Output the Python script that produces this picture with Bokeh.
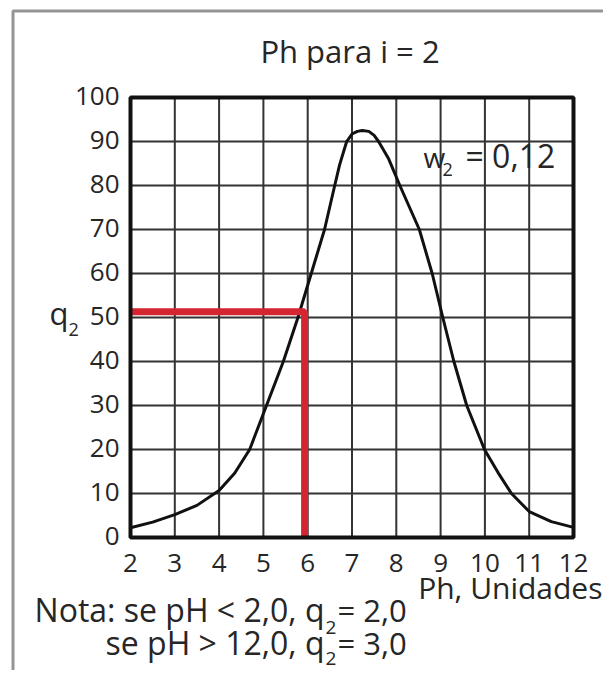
from bokeh.plotting import figure
from bokeh.models import Label, Range1d
from bokeh.embed import file_html
from bokeh.resources import INLINE

# ---- data ----
ph = [2, 2.5, 3, 3.5, 4, 4.35, 4.69, 5.07, 5.45, 5.78, 6.08, 6.38, 6.61, 6.72, 6.88, 7.0,
      7.12, 7.23, 7.38, 7.5, 7.6, 7.83, 8.08, 8.52, 8.81, 9.05, 9.3, 9.59, 9.99, 10.3,
      10.6, 11, 11.5, 12]
q2 = [2.2, 3.5, 5.2, 7.3, 10.7, 14.6, 20, 30, 40, 50, 60, 70, 80, 84.7, 90, 91.7,
      92.3, 92.5, 92.3, 91.4, 90, 86, 80, 70, 60, 50, 40, 30, 20, 14.7,
      10, 5.9, 3.6, 2.3]
x_ticks = [2, 3, 4, 5, 6, 7, 8, 9, 10, 11, 12]
y_ticks = [0, 10, 20, 30, 40, 50, 60, 70, 80, 90, 100]
example_ph = [2, 5.93, 5.93]
example_q = [51.3, 51.3, 0]

title = "Ph para i = 2"
x_title = "Ph, Unidades"
note1 = ("Nota: se pH < 2,0, q", "2", "= 2,0")
note2 = ("se pH > 12,0, q", "2", "= 3,0")
weight = ("w", "2", "= 0,12")

# ---- layout (pixel geometry of the chart area) ----
W, H = 603, 670
FX0, FX1 = 130, 573      # pixel x of ph = 2 and ph = 12
FY0, FY1 = 537, 97       # pixel y of q = 0 and q = 100
sx = (FX1 - FX0) / (x_ticks[-1] - x_ticks[0])
sy = (FY0 - FY1) / (y_ticks[-1] - y_ticks[0])
SHIFT = 0.35             # label anchor correction (fraction of font size)

def X(px):
    return x_ticks[0] + (px - FX0) / sx

def Y(py):
    return y_ticks[0] + (FY0 - py) / sy

TXT = "#262626"
FONT = "Open Sans"

p = figure(width=W, height=H, min_border=0, x_axis_type=None, y_axis_type=None,
           x_range=Range1d(X(0), X(W)), y_range=Range1d(Y(H), Y(0)),
           output_backend="svg", toolbar_location=None)
p.outline_line_color = None
p.background_fill_color = "white"
p.border_fill_color = "white"

# outer grey frame of the figure
p.line([X(12.5), X(12.5), X(W + 5)], [Y(H + 5), Y(10.5), Y(10.5)],
       line_color="#959595", line_width=3)

# grid
p.segment(x0=x_ticks, y0=[y_ticks[0]] * len(x_ticks), x1=x_ticks, y1=[y_ticks[-1]] * len(x_ticks),
          line_color="#333333", line_width=2)
p.segment(x0=[x_ticks[0]] * len(y_ticks), y0=y_ticks, x1=[x_ticks[-1]] * len(y_ticks), y1=y_ticks,
          line_color="#333333", line_width=2)

# curve and example
p.line(ph, q2, line_color="#111111", line_width=3, line_join="round")
p.line(example_ph, example_q, line_color="#d42530", line_width=7)

# chart frame
p.quad(left=x_ticks[0], right=x_ticks[-1], bottom=y_ticks[0], top=y_ticks[-1],
       fill_color=None, line_color="#111111", line_width=4)

def lab(px, base, text, size, align="left"):
    """Place a text with its baseline at pixel row `base`."""
    s = float(size.replace("px", ""))
    p.add_layout(Label(x=X(px), y=Y(base - SHIFT * s), text=text, text_font=FONT,
                       text_font_size=size, text_color=TXT, text_align=align,
                       text_baseline="alphabetic"))

def labd(x, y, text, size, align, baseline, xo=0, yo=0):
    p.add_layout(Label(x=x, y=y, x_offset=xo, y_offset=yo, text=text, text_font=FONT,
                       text_font_size=size, text_color=TXT, text_align=align,
                       text_baseline=baseline))

# tick labels
for t in x_ticks:
    labd(t, y_ticks[0], str(t), "26px", "center", "alphabetic", yo=-25)
for t in y_ticks:
    labd(x_ticks[0], t, str(t), "26px", "right", "middle", xo=-11, yo=2)

# title
lab(349.5, 61, title, "31px", "center")
# w2 annotation
lab(423, 166, weight[0], "28px")
lab(442, 175, weight[1], "18px")
lab(465, 166, weight[2], "32px")
# y label q2
lab(49, 323, "q", "31px")
lab(68, 335, "2", "18px")
# x title
lab(602, 597, x_title, "30px", "right")
# notes
lab(324, 620, note1[0], "32px", "right")
lab(325, 634, note1[1], "19px")
lab(337, 620, note1[2], "31px")
lab(324, 653, note2[0], "32px", "right")
lab(325, 665, note2[1], "19px")
lab(337, 653, note2[2], "31px")

open("out.html", "w").write(file_html(p, INLINE))
